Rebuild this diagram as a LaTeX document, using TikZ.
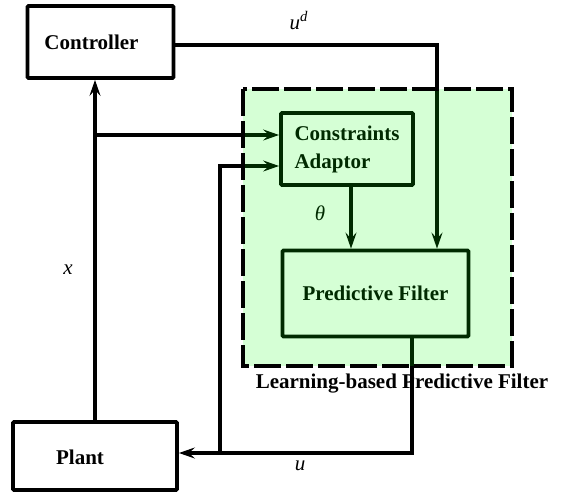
\documentclass[tikz,border=0pt]{standalone}
\usepackage{fontspec}
\setmainfont{Liberation Serif}
\usetikzlibrary{arrows.meta}

\definecolor{lbgreen}{RGB}{0,255,0}

\tikzset{
  block/.style={draw,line width=1.9pt,rounded corners=0.5pt,font=\bfseries\fontsize{10.5}{14}\selectfont},
  wire/.style={line width=1.9pt},
  arr/.style={wire,-{Stealth[length=8pt,width=5.5pt,inset=3pt]}},
  lbl/.style={font=\itshape\fontsize{10.5}{12}\selectfont}
}

\begin{document}
\begin{tikzpicture}[x=0.5pt,y=-0.5pt]
  \useasboundingbox (0,0) rectangle (566,496);

  % blocks
  \node[block,minimum width=73pt,minimum height=36pt] (ctrl) at (100.5,42) {};
  \node[block,minimum width=82pt,minimum height=34pt] (plant) at (95,456) {};
  \node[block,minimum width=66pt,minimum height=36pt,align=left] (ca) at (347,149)
        {Constraints\\Adaptor};
  \node[block,minimum width=93pt,minimum height=43pt] (pf) at (375.5,293.5) {Predictive Filter};

  \node[font=\bfseries\fontsize{10.5}{12}\selectfont] (ctrltxt) at (91.5,42) {Controller};
  \node[font=\bfseries\fontsize{10.5}{12}\selectfont] (planttxt) at (80,457) {Plant};

  % signals
  \coordinate (br) at (95,135);
  \coordinate (fb) at (220,453);
  \coordinate (ud) at (437,45);
  \coordinate (uo) at (412,453);

  \draw[arr] (plant.north) -- (plant.north |- ctrl.south);
  \draw[arr] (br) -- (ca.west |- br);
  \draw[arr] (fb) -- (220,166) -- (ca.west |- 0,166);
  \draw[arr] (ctrl.east |- ud) -- (ud) -- (ud |- pf.north);
  \draw[arr] (ca.south -| 351,0) -- (pf.north -| 351,0);
  \draw[arr] (pf.south -| uo) -- (uo) -- (plant.east |- uo);

  % labels
  \node[lbl] (xlbl) at (68,270) {x};
  \node[lbl] (udlbl) at (299,21) {u\textsuperscript{d}};
  \node[lbl] (thlbl) at (320,213) {θ};
  \node[lbl] (ulbl) at (300,466) {u};

  % learning-based filter region
  \fill[lbgreen,opacity=0.165] (243,89) rectangle (512,366);
  \draw[line width=2pt,dash pattern=on 13.5pt off 2.5pt] (243,89) rectangle (512,366);
  \node[font=\bfseries\fontsize{10.5}{12}\selectfont] (lbpf) at (402,384)
        {Learning-based Predictive Filter};
  \draw[wire] (uo |- 0,370) -- (uo |- 0,396);
\end{tikzpicture}
\end{document}
